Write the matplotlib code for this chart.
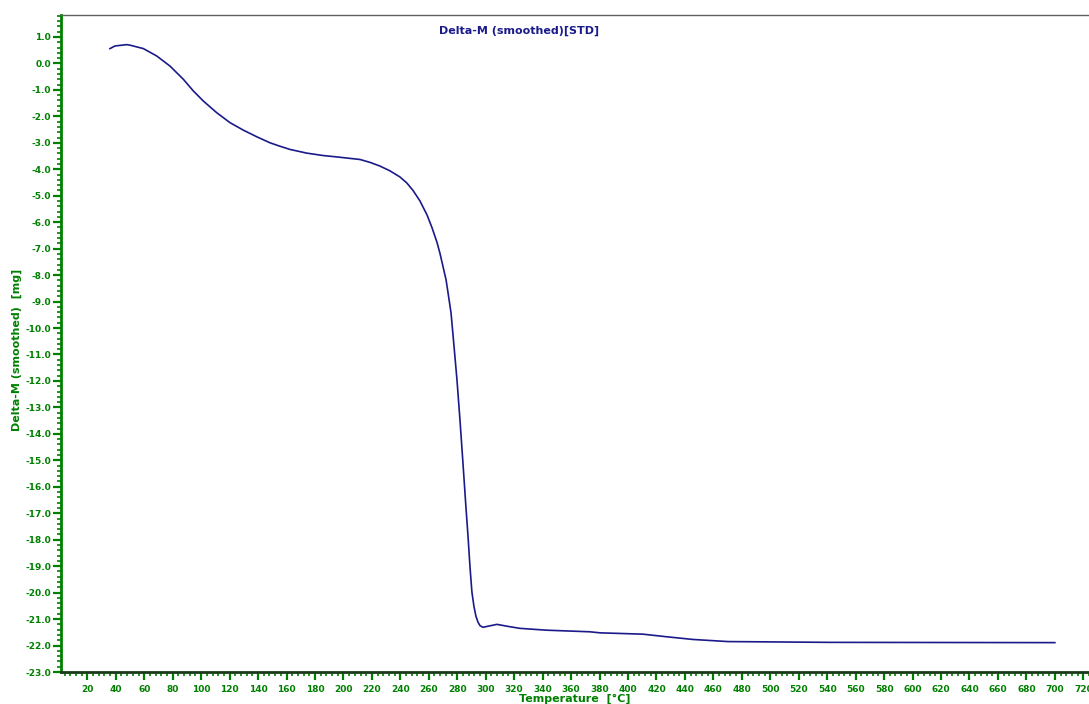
import matplotlib
matplotlib.use("Agg")
import matplotlib.pyplot as plt
from matplotlib.ticker import MultipleLocator, FuncFormatter

# Thermogravimetric trace: sample temperature (°C) and smoothed mass change (mg)
temperature = [35.9, 39.5, 47.7, 50.0, 59.4, 68.8, 78.1, 87.5, 94.5, 101.5,
               110.9, 120.3, 129.6, 139.0, 148.4, 155.4, 162.4, 174.2, 185.6, 196.4,
               211.6, 218.7, 225.7, 232.7, 239.7, 244.6, 248.9, 253.8, 258.7, 262.2,
               265.8, 267.9, 270.0, 272.1, 273.5, 275.6, 277.0, 279.8, 281.9, 284.0,
               286.1, 287.6, 289.0, 290.3, 291.7, 293.1, 294.6, 296.0, 298.1, 301.6,
               307.9, 317.1, 324.0, 342.8, 373.1, 380.4, 410.5, 427.4, 445.6, 470.2,
               541.9, 700.0]
delta_m = [0.56, 0.66, 0.71, 0.69, 0.56, 0.28, -0.10, -0.60, -1.04, -1.42,
           -1.86, -2.24, -2.52, -2.77, -3.00, -3.13, -3.25, -3.39, -3.48, -3.54,
           -3.63, -3.74, -3.88, -4.06, -4.29, -4.52, -4.80, -5.20, -5.72, -6.20,
           -6.77, -7.19, -7.68, -8.17, -8.66, -9.42, -10.25, -11.96, -13.47, -15.10,
           -16.77, -17.90, -19.07, -19.98, -20.51, -20.89, -21.12, -21.25, -21.31, -21.27,
           -21.20, -21.29, -21.35, -21.42, -21.48, -21.52, -21.57, -21.67, -21.77, -21.85,
           -21.88, -21.89]

title = "Delta-M (smoothed)[STD]"
x_label = "Temperature  [°C]"
y_label = "Delta-M (smoothed)  [mg]"

green = "#008000"
navy = "#1a1a8a"

fig = plt.figure(figsize=(10.89, 7.04), dpi=100)
ax = fig.add_axes([61 / 1089, 1 - 672 / 704, 1 - 61 / 1089, (672 - 15) / 704])

ax.plot(temperature, delta_m, color=navy, lw=1.2, solid_joinstyle="round")

ax.set_xlim(1.5, 724)
ax.set_ylim(-23.0, 1.83)

ax.xaxis.set_major_locator(MultipleLocator(20))
ax.xaxis.set_minor_locator(MultipleLocator(4))
ax.yaxis.set_major_locator(MultipleLocator(1.0))
ax.yaxis.set_minor_locator(MultipleLocator(0.2))

ax.xaxis.set_major_formatter(FuncFormatter(lambda v, p: f"{v:.0f}" if v >= 20 else ""))
ax.yaxis.set_major_formatter(FuncFormatter(lambda v, p: "0.0" if abs(v) < 1e-9 else f"{v:.1f}"))

ax.tick_params(axis="both", which="major", direction="out", length=6, width=1.6,
               color=green, labelcolor=green, labelsize=6.5, pad=1)
ax.tick_params(axis="both", which="minor", direction="out", length=3, width=1.2, color=green)
for lbl in ax.get_xticklabels() + ax.get_yticklabels():
    lbl.set_fontweight("bold")
ax.tick_params(axis="x", pad=3)

ax.spines["left"].set_color(green)
ax.spines["left"].set_linewidth(2)
ax.spines["bottom"].set_color("#1a3a1a")
ax.spines["bottom"].set_linewidth(2)
ax.spines["top"].set_color("#606060")
ax.spines["top"].set_linewidth(1)
ax.spines["right"].set_visible(False)

fig.text(519 / 1089, 1 - 31 / 704, title, color=navy, fontsize=8, fontweight="bold",
         ha="center", va="center")
fig.text(575 / 1089, 1 - 699 / 704, x_label, color=green, fontsize=8, fontweight="bold",
         ha="center", va="center")
fig.text(17 / 1089, 1 - 350 / 704, y_label, color=green, fontsize=8, fontweight="bold",
         ha="center", va="center", rotation=90)

fig.savefig("out.png", dpi=100)
